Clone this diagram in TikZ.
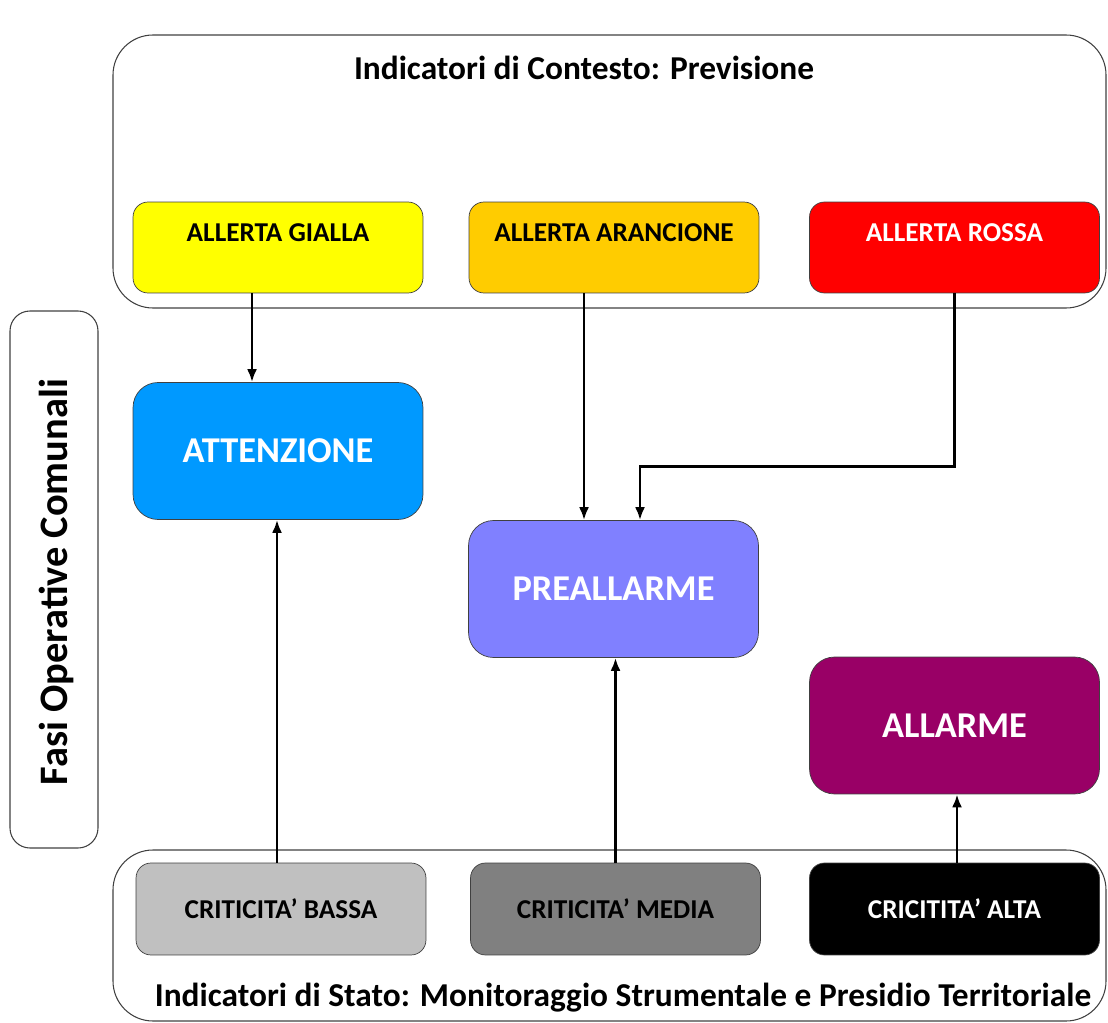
\documentclass[tikz,border=0pt]{standalone}
\usepackage{fontspec}
\setmainfont{Carlito}
\usetikzlibrary{arrows.meta}

\definecolor{giallo}{HTML}{FFFF00}
\definecolor{arancio}{HTML}{FFCC00}
\definecolor{rosso}{HTML}{FF0000}
\definecolor{azzurro}{HTML}{0099FF}
\definecolor{lilla}{HTML}{8080FF}
\definecolor{viola}{HTML}{990066}
\definecolor{grigiochiaro}{HTML}{C0C0C0}
\definecolor{grigioscuro}{HTML}{808080}
\definecolor{bordo}{HTML}{404040}

\tikzset{
    frame/.style={draw=bordo, line width=0.6pt},
    allerta/.style={draw=bordo, thin, rounded corners=0.3cm, minimum width=5.8cm, minimum height=1.82cm},
    allertatext/.style={anchor=north, yshift=-0.32cm, font=\fontsize{15.5}{18}\selectfont\bfseries},
    fase/.style={draw=bordo, thin, rounded corners=0.5cm, minimum width=5.8cm, minimum height=2.74cm,
        text=white, font=\fontsize{20.7}{24}\selectfont\bfseries},
    criticita/.style={draw=bordo, thin, rounded corners=0.3cm, minimum width=5.8cm, minimum height=1.84cm,
        font=\fontsize{15.5}{18}\selectfont\bfseries},
    freccia/.style={line width=1.5pt, -{Latex[length=2.6mm, width=2mm]}}
}

\begin{document}
\begin{tikzpicture}[x=0.02cm, y=-0.02cm]
    \useasboundingbox (0, 0) rectangle (1108, 1023);

    % Contenitori
    \draw[frame, rounded corners=0.8cm] (113, 35) rectangle (1106, 308);
    \draw[frame, rounded corners=0.8cm] (113, 850) rectangle (1106, 1021);
    \draw[frame, rounded corners=0.4cm] (10, 311) rectangle (98, 848);

    % Titoli
    \node[font=\fontsize{19}{22}\selectfont\bfseries] (contesto) at (584, 68) {Indicatori di Contesto: Previsione};
    \node[font=\fontsize{19}{22}\selectfont\bfseries] (stato) at (623, 998) {Indicatori di Stato: Monitoraggio Strumentale e Presidio Territoriale};
    \node[rotate=90, font=\fontsize{23}{27}\selectfont\bfseries] (fasi) at (56, 582) {Fasi Operative Comunali};

    % Allerte
    \node[allerta, fill=giallo, label={[allertatext]north:ALLERTA GIALLA}] (gialla) at (278, 247.5) {};
    \node[allerta, fill=arancio, label={[allertatext]north:ALLERTA ARANCIONE}] (arancione) at (614, 247.5) {};
    \node[allerta, fill=rosso, label={[allertatext, text=white]north:ALLERTA ROSSA}] (rossa) at (954.5, 247.5) {};

    % Fasi
    \node[fase, fill=azzurro] (attenzione) at (278, 451) {ATTENZIONE};
    \node[fase, fill=lilla] (preallarme) at (613.5, 589) {PREALLARME};
    \node[fase, fill=viola] (allarme) at (954.5, 725.5) {ALLARME};

    % Criticita
    \node[criticita, fill=grigiochiaro] (bassa) at (281, 909) {CRITICITA’ BASSA};
    \node[criticita, fill=grigioscuro] (media) at (615.5, 909) {CRITICITA’ MEDIA};
    \node[criticita, fill=black, text=white] (alta) at (954.5, 909) {CRICITITA’ ALTA};

    % Frecce
    \draw[freccia] ([xshift=-0.52cm]gialla.south) -- ([xshift=-0.52cm]attenzione.north);
    \draw[freccia] ([xshift=-0.6cm]arancione.south) -- ([xshift=-0.6cm]arancione.south |- preallarme.north);
    \draw[freccia] (rossa.south) -- ++(0, -3.46cm) -| ([xshift=0.53cm]preallarme.north);
    \draw[freccia] ([xshift=-0.08cm]bassa.north) -- ([xshift=-0.08cm]bassa.north |- attenzione.south);
    \draw[freccia] (media.north) -- (media.north |- preallarme.south);
    \draw[freccia] ([xshift=0.05cm]alta.north) -- ([xshift=0.05cm]alta.north |- allarme.south);

\end{tikzpicture}
\end{document}
